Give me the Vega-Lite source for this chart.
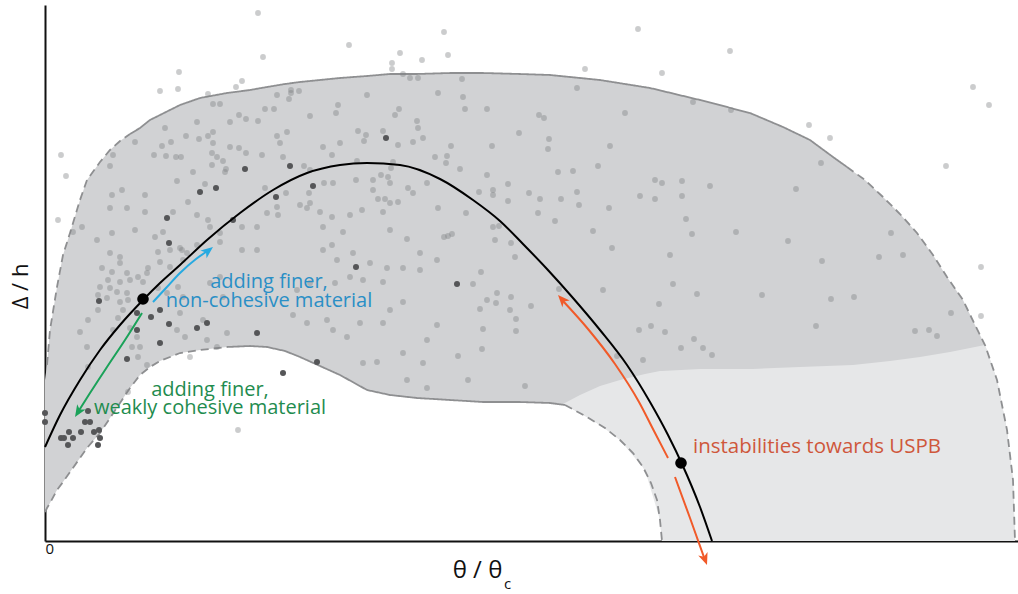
{
  "$schema": "https://vega.github.io/schema/vega-lite/v6.json",
  "width": 973,
  "height": 536,
  "autosize": {"type": "none"},
  "padding": {"left": 45, "top": 5, "right": 0, "bottom": 53},
  "background": "white",
  "config": {"view": {"stroke": null}, "font": "Open Sans"},
  "datasets": {
    "band": [
      {"x":0,"y":161,"y2":29},{"x":2,"y":176,"y2":33},{"x":5,"y":211,"y2":38},{"x":12,"y":254,"y2":51},{"x":18,"y":286,"y2":59},{"x":25,"y":308,"y2":69},{"x":35,"y":341,"y2":83},{"x":42,"y":361,"y2":93},{"x":55,"y":379,"y2":108},{"x":65,"y":391,"y2":123},{"x":75,"y":400,"y2":138},{"x":85,"y":407,"y2":153},{"x":95,"y":413,"y2":166},{"x":105,"y":421,"y2":174},{"x":115,"y":426,"y2":180},{"x":135,"y":436,"y2":188},{"x":155,"y":443,"y2":191},{"x":182,"y":448,"y2":194},{"x":205,"y":451,"y2":195},{"x":222,"y":454,"y2":194},{"x":240,"y":457,"y2":190},{"x":255,"y":459,"y2":184},{"x":275,"y":461,"y2":175},{"x":295,"y":463,"y2":166},{"x":322,"y":465,"y2":151},{"x":345,"y":467,"y2":146},{"x":372,"y":467,"y2":143},{"x":405,"y":468,"y2":141},{"x":438,"y":468,"y2":139},{"x":475,"y":467,"y2":139},{"x":505,"y":466,"y2":138},{"x":520,"y":465,"y2":136},{"x":542,"y":463,"y2":124},{"x":560,"y":460,"y2":113},{"x":575,"y":458,"y2":101},{"x":588,"y":456,"y2":88},{"x":598,"y":454,"y2":74},{"x":606,"y":453,"y2":58},{"x":612,"y":452,"y2":41},{"x":615,"y":451,"y2":21},{"x":617,"y":451,"y2":0},{"x":655,"y":441,"y2":0},{"x":705,"y":428,"y2":0},{"x":738,"y":414,"y2":0},{"x":765,"y":401,"y2":0},{"x":788,"y":384,"y2":0},{"x":802,"y":374,"y2":0},{"x":820,"y":361,"y2":0},{"x":838,"y":344,"y2":0},{"x":855,"y":327,"y2":0},{"x":872,"y":308,"y2":0},{"x":888,"y":286,"y2":0},{"x":902,"y":264,"y2":0},{"x":918,"y":241,"y2":0},{"x":930,"y":216,"y2":0},{"x":940,"y":196,"y2":0},{"x":952,"y":161,"y2":0},{"x":962,"y":111,"y2":0},{"x":968,"y":61,"y2":0},{"x":970,"y":0,"y2":0}
    ],
    "lightZone": [
      {"x":518,"y":137,"y2":137},{"x":535,"y":146,"y2":128},{"x":555,"y":155,"y2":116},{"x":575,"y":161,"y2":101},{"x":600,"y":167,"y2":71},{"x":615,"y":170,"y2":21},{"x":617,"y":170,"y2":0},{"x":655,"y":172,"y2":0},{"x":708,"y":172,"y2":0},{"x":755,"y":174,"y2":0},{"x":808,"y":176,"y2":0},{"x":845,"y":180,"y2":0},{"x":875,"y":184,"y2":0},{"x":905,"y":189,"y2":0},{"x":940,"y":196,"y2":0},{"x":952,"y":161,"y2":0},{"x":962,"y":111,"y2":0},{"x":968,"y":61,"y2":0},{"x":970,"y":0,"y2":0}
    ],
    "bounds": [
      {"x":2,"y":176,"seg":"outerL","style":"dashed"},{"x":5,"y":211,"seg":"outerL","style":"dashed"},{"x":12,"y":254,"seg":"outerL","style":"dashed"},{"x":18,"y":286,"seg":"outerL","style":"dashed"},{"x":25,"y":308,"seg":"outerL","style":"dashed"},{"x":35,"y":341,"seg":"outerL","style":"dashed"},{"x":42,"y":361,"seg":"outerL","style":"dashed"},{"x":55,"y":379,"seg":"outerL","style":"dashed"},{"x":65,"y":391,"seg":"outerL","style":"dashed"},{"x":75,"y":400,"seg":"outerL","style":"dashed"},{"x":85,"y":407,"seg":"outerL","style":"dashed"},
      {"x":85,"y":407,"seg":"outerM","style":"solid"},{"x":95,"y":413,"seg":"outerM","style":"solid"},{"x":105,"y":421,"seg":"outerM","style":"solid"},{"x":115,"y":426,"seg":"outerM","style":"solid"},{"x":135,"y":436,"seg":"outerM","style":"solid"},{"x":155,"y":443,"seg":"outerM","style":"solid"},{"x":182,"y":448,"seg":"outerM","style":"solid"},{"x":205,"y":451,"seg":"outerM","style":"solid"},{"x":222,"y":454,"seg":"outerM","style":"solid"},{"x":240,"y":457,"seg":"outerM","style":"solid"},{"x":255,"y":459,"seg":"outerM","style":"solid"},{"x":275,"y":461,"seg":"outerM","style":"solid"},{"x":295,"y":463,"seg":"outerM","style":"solid"},{"x":322,"y":465,"seg":"outerM","style":"solid"},{"x":345,"y":467,"seg":"outerM","style":"solid"},{"x":372,"y":467,"seg":"outerM","style":"solid"},{"x":405,"y":468,"seg":"outerM","style":"solid"},{"x":438,"y":468,"seg":"outerM","style":"solid"},{"x":475,"y":467,"seg":"outerM","style":"solid"},{"x":505,"y":466,"seg":"outerM","style":"solid"},{"x":555,"y":461,"seg":"outerM","style":"solid"},{"x":605,"y":453,"seg":"outerM","style":"solid"},{"x":655,"y":441,"seg":"outerM","style":"solid"},{"x":705,"y":428,"seg":"outerM","style":"solid"},{"x":738,"y":414,"seg":"outerM","style":"solid"},{"x":765,"y":401,"seg":"outerM","style":"solid"},{"x":788,"y":384,"seg":"outerM","style":"solid"},{"x":802,"y":374,"seg":"outerM","style":"solid"},
      {"x":802,"y":374,"seg":"outerR","style":"dashed"},{"x":820,"y":361,"seg":"outerR","style":"dashed"},{"x":838,"y":344,"seg":"outerR","style":"dashed"},{"x":855,"y":327,"seg":"outerR","style":"dashed"},{"x":872,"y":308,"seg":"outerR","style":"dashed"},{"x":888,"y":286,"seg":"outerR","style":"dashed"},{"x":902,"y":264,"seg":"outerR","style":"dashed"},{"x":918,"y":241,"seg":"outerR","style":"dashed"},{"x":930,"y":216,"seg":"outerR","style":"dashed"},{"x":940,"y":196,"seg":"outerR","style":"dashed"},{"x":952,"y":161,"seg":"outerR","style":"dashed"},{"x":962,"y":111,"seg":"outerR","style":"dashed"},{"x":968,"y":61,"seg":"outerR","style":"dashed"},{"x":970,"y":0,"seg":"outerR","style":"dashed"},
      {"x":0,"y":29,"seg":"innerL","style":"dashed"},{"x":2,"y":33,"seg":"innerL","style":"dashed"},{"x":5,"y":38,"seg":"innerL","style":"dashed"},{"x":12,"y":51,"seg":"innerL","style":"dashed"},{"x":18,"y":59,"seg":"innerL","style":"dashed"},{"x":25,"y":69,"seg":"innerL","style":"dashed"},{"x":35,"y":83,"seg":"innerL","style":"dashed"},{"x":42,"y":93,"seg":"innerL","style":"dashed"},{"x":55,"y":108,"seg":"innerL","style":"dashed"},{"x":65,"y":123,"seg":"innerL","style":"dashed"},{"x":75,"y":138,"seg":"innerL","style":"dashed"},{"x":85,"y":153,"seg":"innerL","style":"dashed"},{"x":95,"y":166,"seg":"innerL","style":"dashed"},{"x":105,"y":174,"seg":"innerL","style":"dashed"},{"x":115,"y":180,"seg":"innerL","style":"dashed"},{"x":135,"y":188,"seg":"innerL","style":"dashed"},{"x":155,"y":191,"seg":"innerL","style":"dashed"},{"x":182,"y":194,"seg":"innerL","style":"dashed"},
      {"x":182,"y":194,"seg":"innerM","style":"solid"},{"x":205,"y":195,"seg":"innerM","style":"solid"},{"x":222,"y":194,"seg":"innerM","style":"solid"},{"x":240,"y":190,"seg":"innerM","style":"solid"},{"x":255,"y":184,"seg":"innerM","style":"solid"},{"x":275,"y":175,"seg":"innerM","style":"solid"},{"x":295,"y":166,"seg":"innerM","style":"solid"},{"x":322,"y":151,"seg":"innerM","style":"solid"},{"x":345,"y":146,"seg":"innerM","style":"solid"},{"x":372,"y":143,"seg":"innerM","style":"solid"},{"x":405,"y":141,"seg":"innerM","style":"solid"},{"x":438,"y":139,"seg":"innerM","style":"solid"},{"x":475,"y":139,"seg":"innerM","style":"solid"},{"x":505,"y":138,"seg":"innerM","style":"solid"},{"x":520,"y":136,"seg":"innerM","style":"solid"},
      {"x":520,"y":136,"seg":"innerR","style":"dashed"},{"x":542,"y":124,"seg":"innerR","style":"dashed"},{"x":560,"y":113,"seg":"innerR","style":"dashed"},{"x":575,"y":101,"seg":"innerR","style":"dashed"},{"x":588,"y":88,"seg":"innerR","style":"dashed"},{"x":598,"y":74,"seg":"innerR","style":"dashed"},{"x":606,"y":58,"seg":"innerR","style":"dashed"},{"x":612,"y":41,"seg":"innerR","style":"dashed"},{"x":615,"y":21,"seg":"innerR","style":"dashed"},{"x":617,"y":0,"seg":"innerR","style":"dashed"}
    ],
    "lightPts": [
      {"x":213,"y":528},{"x":218,"y":484},{"x":304,"y":496},{"x":399,"y":509},{"x":403,"y":486},{"x":355,"y":488},{"x":347,"y":478},{"x":347,"y":472},{"x":377,"y":481},{"x":358,"y":467},{"x":365,"y":463},{"x":373,"y":463},{"x":417,"y":462},{"x":134,"y":469},{"x":115,"y":450},{"x":133,"y":452},{"x":191,"y":454},{"x":197,"y":460},{"x":163,"y":447},{"x":16,"y":386},{"x":21,"y":365},{"x":168,"y":437},{"x":175,"y":437},{"x":246,"y":451},{"x":246,"y":448},{"x":254,"y":450},{"x":232,"y":446},{"x":244,"y":442},{"x":322,"y":446},{"x":393,"y":448},{"x":418,"y":444},{"x":220,"y":432},{"x":229,"y":432},{"x":293,"y":436},{"x":291,"y":428},{"x":354,"y":432},{"x":350,"y":426},{"x":420,"y":432},{"x":442,"y":432},{"x":265,"y":425},{"x":194,"y":426},{"x":201,"y":422},{"x":213,"y":420},{"x":185,"y":419},{"x":152,"y":419},{"x":120,"y":413},{"x":90,"y":399},{"x":126,"y":399},{"x":117,"y":395},{"x":141,"y":405},{"x":154,"y":402},{"x":163,"y":405},{"x":168,"y":409},{"x":168,"y":398},{"x":185,"y":394},{"x":194,"y":393},{"x":201,"y":388},{"x":167,"y":388},{"x":172,"y":384},{"x":178,"y":380},{"x":136,"y":384},{"x":131,"y":384},{"x":121,"y":385},{"x":109,"y":386},{"x":68,"y":386},{"x":65,"y":375},{"x":232,"y":405},{"x":242,"y":409},{"x":235,"y":398},{"x":278,"y":394},{"x":287,"y":386},{"x":295,"y":398},{"x":313,"y":410},{"x":321,"y":406},{"x":319,"y":400},{"x":338,"y":410},{"x":353,"y":396},{"x":368,"y":399},{"x":378,"y":403},{"x":373,"y":413},{"x":372,"y":420},{"x":406,"y":395},{"x":447,"y":395},{"x":390,"y":384},{"x":402,"y":385},{"x":401,"y":378},{"x":415,"y":372},{"x":442,"y":366},{"x":434,"y":349},{"x":448,"y":351},{"x":448,"y":346},{"x":217,"y":386},{"x":238,"y":384},{"x":167,"y":376},{"x":181,"y":372},{"x":180,"y":369},{"x":148,"y":369},{"x":132,"y":360},{"x":160,"y":357},{"x":77,"y":351},{"x":67,"y":346},{"x":100,"y":346},{"x":259,"y":375},{"x":265,"y":371},{"x":279,"y":358},{"x":288,"y":358},{"x":311,"y":361},{"x":328,"y":361},{"x":336,"y":366},{"x":343,"y":364},{"x":345,"y":358},{"x":346,"y":373},{"x":348,"y":379},{"x":312,"y":380},{"x":363,"y":353},{"x":368,"y":348},{"x":382,"y":358},{"x":328,"y":351},{"x":333,"y":342},{"x":340,"y":342},{"x":220,"y":353},{"x":241,"y":348},{"x":264,"y":348},
      {"x":593,"y":512},{"x":685,"y":490},{"x":540,"y":472},{"x":617,"y":468},{"x":532,"y":453},{"x":648,"y":439},{"x":686,"y":431},{"x":928,"y":454},{"x":944,"y":436},{"x":764,"y":416},{"x":785,"y":403},{"x":901,"y":375},{"x":776,"y":378},{"x":494,"y":426},{"x":499,"y":423},{"x":580,"y":428},{"x":474,"y":408},{"x":504,"y":402},{"x":503,"y":392},{"x":565,"y":395},{"x":553,"y":375},{"x":513,"y":369},{"x":528,"y":370},{"x":463,"y":357},{"x":484,"y":348},{"x":495,"y":342},{"x":516,"y":342},{"x":532,"y":349},{"x":534,"y":336},{"x":463,"y":340},{"x":493,"y":328},{"x":510,"y":320},{"x":564,"y":333},{"x":610,"y":361},{"x":617,"y":358},{"x":637,"y":360},{"x":665,"y":355},{"x":595,"y":345},{"x":610,"y":342},{"x":637,"y":345},{"x":751,"y":352},{"x":641,"y":322},{"x":647,"y":307},{"x":691,"y":309},{"x":548,"y":310},{"x":567,"y":293},{"x":466,"y":298},{"x":470,"y":284},{"x":625,"y":286},{"x":743,"y":300},{"x":777,"y":280},{"x":846,"y":308},{"x":834,"y":284},{"x":858,"y":286},{"x":936,"y":274},{"x":514,"y":252},{"x":558,"y":251},{"x":628,"y":257},{"x":652,"y":247},{"x":717,"y":246},{"x":786,"y":242},{"x":809,"y":244},{"x":466,"y":244},
      {"x":486,"y":235},{"x":614,"y":237},{"x":771,"y":215},{"x":906,"y":228},{"x":936,"y":225},{"x":594,"y":211},{"x":606,"y":215},{"x":620,"y":209},{"x":649,"y":202},{"x":636,"y":193},{"x":658,"y":193},{"x":667,"y":186},{"x":598,"y":181},{"x":870,"y":210},{"x":884,"y":211},{"x":892,"y":205},{"x":480,"y":155},{"x":572,"y":185},
      {"x":421,"y":328},{"x":448,"y":314},{"x":454,"y":315},{"x":399,"y":304},{"x":407,"y":307},{"x":403,"y":305},{"x":450,"y":301},{"x":436,"y":269},{"x":428,"y":257},{"x":452,"y":248},{"x":442,"y":241},{"x":451,"y":238},{"x":435,"y":232},{"x":438,"y":212},{"x":437,"y":192},{"x":413,"y":185},{"x":423,"y":161},{"x":465,"y":231},{"x":471,"y":222},{"x":471,"y":210},
      {"x":128,"y":329},{"x":143,"y":339},{"x":163,"y":321},{"x":152,"y":326},{"x":118,"y":309},{"x":110,"y":304},{"x":137,"y":291},{"x":152,"y":296},{"x":175,"y":299},{"x":197,"y":291},{"x":212,"y":291},{"x":197,"y":314},{"x":212,"y":314},{"x":232,"y":334},{"x":233,"y":326},{"x":222,"y":328},{"x":255,"y":336},{"x":262,"y":333},{"x":265,"y":338},{"x":275,"y":329},{"x":278,"y":314},{"x":287,"y":324},{"x":305,"y":326},{"x":317,"y":331},{"x":345,"y":338},{"x":338,"y":329},{"x":353,"y":339},{"x":393,"y":333},{"x":298,"y":309},{"x":287,"y":296},{"x":278,"y":291},{"x":292,"y":281},{"x":308,"y":288},{"x":325,"y":278},{"x":345,"y":311},{"x":362,"y":302},{"x":375,"y":288},{"x":342,"y":273},{"x":358,"y":273},{"x":375,"y":271},{"x":392,"y":281},{"x":318,"y":261},{"x":305,"y":264},{"x":290,"y":258},{"x":265,"y":258},{"x":252,"y":251},{"x":248,"y":226},{"x":262,"y":218},{"x":282,"y":221},{"x":288,"y":211},{"x":302,"y":204},{"x":315,"y":218},{"x":338,"y":218},{"x":345,"y":231},{"x":338,"y":259},{"x":358,"y":239},{"x":392,"y":216},{"x":382,"y":201},{"x":378,"y":178},{"x":358,"y":188},{"x":332,"y":179},{"x":318,"y":178},{"x":362,"y":161},{"x":382,"y":153},
      {"x":13,"y":321},{"x":28,"y":309},{"x":37,"y":314},{"x":52,"y":301},{"x":67,"y":308},{"x":65,"y":333},{"x":82,"y":333},{"x":90,"y":311},{"x":100,"y":329},{"x":65,"y":288},{"x":75,"y":284},{"x":75,"y":278},{"x":57,"y":273},{"x":67,"y":269},{"x":82,"y":268},{"x":85,"y":261},{"x":93,"y":264},{"x":102,"y":268},{"x":103,"y":273},{"x":98,"y":259},{"x":63,"y":261},{"x":75,"y":259},{"x":55,"y":254},{"x":65,"y":253},{"x":53,"y":246},{"x":62,"y":243},{"x":72,"y":249},{"x":82,"y":248},{"x":75,"y":239},{"x":83,"y":241},{"x":43,"y":221},{"x":35,"y":209},{"x":42,"y":194},{"x":43,"y":174},{"x":53,"y":231},{"x":73,"y":223},{"x":78,"y":231},{"x":68,"y":211},{"x":85,"y":213},{"x":92,"y":204},{"x":87,"y":194},{"x":93,"y":184},{"x":102,"y":176},{"x":95,"y":194},{"x":113,"y":289},{"x":125,"y":291},{"x":135,"y":293},{"x":142,"y":288},{"x":165,"y":314},{"x":175,"y":308},{"x":138,"y":281},{"x":115,"y":279},{"x":125,"y":274},{"x":133,"y":254},{"x":138,"y":244},{"x":122,"y":248},{"x":113,"y":253},{"x":165,"y":258},{"x":175,"y":264},{"x":135,"y":228},{"x":158,"y":221},{"x":132,"y":211},{"x":140,"y":204},{"x":162,"y":201},{"x":145,"y":184},{"x":178,"y":244},{"x":172,"y":194},{"x":182,"y":208},
      {"x":83,"y":149},{"x":193,"y":111}
    ],
    "darkPts": [
      {"x":341,"y":403},{"x":200,"y":372},{"x":245,"y":375},{"x":268,"y":355},{"x":171,"y":353},{"x":155,"y":349},{"x":231,"y":344},{"x":122,"y":323},{"x":124,"y":298},{"x":188,"y":321},{"x":311,"y":274},{"x":412,"y":257},{"x":212,"y":208},{"x":162,"y":218},{"x":124,"y":217},{"x":152,"y":213},{"x":115,"y":198},{"x":115,"y":231},{"x":106,"y":224},{"x":272,"y":179},{"x":238,"y":168},{"x":54,"y":240},{"x":82,"y":182},{"x":92,"y":228},{"x":92,"y":211},
      {"x":0,"y":128},{"x":0,"y":119},{"x":16,"y":103},{"x":19,"y":103},{"x":24,"y":109},{"x":28,"y":103},{"x":23,"y":96},{"x":36,"y":109},{"x":40,"y":119},{"x":45,"y":119},{"x":43,"y":130},{"x":49,"y":109},{"x":54,"y":111},{"x":55,"y":103},{"x":53,"y":96}
    ],
    "curve": [
      {"x":0,"y":94},{"x":15,"y":126},{"x":35,"y":161},{"x":55,"y":191},{"x":75,"y":216},{"x":98,"y":241},{"x":115,"y":258},{"x":135,"y":276},{"x":162,"y":301},{"x":195,"y":328},{"x":228,"y":351},{"x":262,"y":368},{"x":295,"y":376},{"x":322,"y":378},{"x":355,"y":376},{"x":395,"y":362},{"x":428,"y":341},{"x":455,"y":320},{"x":478,"y":297},{"x":502,"y":272},{"x":528,"y":243},{"x":555,"y":211},{"x":582,"y":176},{"x":605,"y":139},{"x":623,"y":106},{"x":637,"y":77},{"x":655,"y":34},{"x":667,"y":0}
    ],
    "bigDots": [{"x":98,"y":242},{"x":636,"y":78}],
    "arrows": [
      {"x":108,"y":239,"arrow":"blue","ord":1},{"x":121,"y":253,"arrow":"blue","ord":2},{"x":135,"y":268,"arrow":"blue","ord":3},{"x":151,"y":282,"arrow":"blue","ord":4},{"x":164,"y":291,"arrow":"blue","ord":5},
      {"x":97,"y":228,"arrow":"green","ord":1},{"x":80,"y":201,"arrow":"green","ord":2},{"x":62,"y":174,"arrow":"green","ord":3},{"x":45,"y":148,"arrow":"green","ord":4},{"x":33,"y":129,"arrow":"green","ord":5},
      {"x":623,"y":83,"arrow":"orangeUp","ord":1},{"x":609,"y":110,"arrow":"orangeUp","ord":2},{"x":594,"y":139,"arrow":"orangeUp","ord":3},{"x":570,"y":177,"arrow":"orangeUp","ord":4},{"x":543,"y":212,"arrow":"orangeUp","ord":5},{"x":518,"y":240,"arrow":"orangeUp","ord":6},
      {"x":630,"y":64,"arrow":"orangeDown","ord":1},{"x":645,"y":23,"arrow":"orangeDown","ord":2},{"x":660,"y":-19,"arrow":"orangeDown","ord":3}
    ],
    "heads": [
      {"x":168,"y":294,"arrow":"blue","angle":52},
      {"x":30,"y":124,"arrow":"green","angle":212},
      {"x":513,"y":246,"arrow":"orangeUp","angle":318},
      {"x":662,"y":-24,"arrow":"orangeDown","angle":160}
    ],
    "blueText": [{"x":224,"y":259,"text":"adding finer,\nnon-cohesive material"}],
    "greenText": [{"x":165,"y":151,"text":"adding finer,\nweakly cohesive material"}],
    "orangeText": [{"x":648,"y":94,"text":"instabilities towards USPB"}],
    "subText": [{"x":459,"y":-48,"text":"c"}]
  },
  "encoding": {
    "x": {"field": "x", "type": "quantitative", "scale": {"domain": [0, 973], "nice": false, "zero": false},
      "axis": {"domainColor": "#111111", "domainWidth": 2, "ticks": false, "grid": false, "values": [0], "labelFontSize": 15, "labelColor": "#111111", "labelPadding": 0, "labelFont": "Open Sans",
        "title": "θ / θ", "titleFont": "Open Sans", "titleFontSize": 24, "titleFontWeight": "normal", "titleColor": "#111111", "titleX": 432, "titleY": 36, "titleBaseline": "alphabetic", "titleAlign": "center"}},
    "y": {"field": "y", "type": "quantitative", "scale": {"domain": [0, 536], "nice": false, "zero": false},
      "axis": {"domainColor": "#111111", "domainWidth": 2, "ticks": false, "grid": false, "labels": false,
        "title": "Δ / h", "titleFont": "Open Sans", "titleFontSize": 22, "titleFontWeight": "normal", "titleColor": "#111111", "titleX": -18, "titleY": 281, "titleAngle": 270, "titleBaseline": "alphabetic", "titleAlign": "center"}}
  },
  "layer": [
    {"data": {"name": "band"}, "mark": {"type": "area", "color": "#d1d2d4"}, "encoding": {"y2": {"field": "y2"}}},
    {"data": {"name": "lightZone"}, "mark": {"type": "area", "color": "#e6e7e8"}, "encoding": {"y2": {"field": "y2"}}},
    {"data": {"name": "bounds"}, "mark": {"type": "line", "color": "#8e8f91", "strokeWidth": 1.8},
      "encoding": {"detail": {"field": "seg"}, "strokeDash": {"field": "style", "type": "nominal", "scale": {"domain": ["solid", "dashed"], "range": [[1, 0], [8, 5]]}, "legend": null}}},
    {"data": {"name": "lightPts"}, "mark": {"type": "circle", "color": "#7d7f82", "opacity": 0.4, "size": 34}},
    {"data": {"name": "darkPts"}, "mark": {"type": "circle", "color": "#555658", "opacity": 1, "size": 36}},
    {"data": {"name": "curve"}, "mark": {"type": "line", "color": "#000000", "strokeWidth": 2, "interpolate": "monotone"}, "encoding": {}},
    {"data": {"name": "arrows"}, "mark": {"type": "line", "strokeWidth": 2, "interpolate": "monotone"},
      "encoding": {"detail": {"field": "arrow"}, "order": {"field": "ord", "type": "quantitative"},
        "color": {"field": "arrow", "type": "nominal", "scale": {"domain": ["blue", "green", "orangeUp", "orangeDown"], "range": ["#27aae1", "#1aa259", "#f15a29", "#f15a29"]}, "legend": null}}},
    {"data": {"name": "heads"}, "mark": {"type": "point", "filled": true, "opacity": 1, "shape": "M0,0L0.7,1.7L0,1.25L-0.7,1.7Z", "size": 200},
      "encoding": {"angle": {"field": "angle", "type": "quantitative", "scale": null},
        "color": {"field": "arrow", "type": "nominal", "scale": {"domain": ["blue", "green", "orangeUp", "orangeDown"], "range": ["#27aae1", "#1aa259", "#f15a29", "#f15a29"]}, "legend": null}}},
    {"data": {"name": "bigDots"}, "mark": {"type": "circle", "color": "#000000", "opacity": 1, "size": 135}},
    {"data": {"name": "blueText"}, "mark": {"type": "text", "color": "#2a8fc6", "fontSize": 20, "font": "Open Sans", "align": "center", "baseline": "middle", "lineBreak": "\n", "lineHeight": 18.5}, "encoding": {"text": {"field": "text"}}},
    {"data": {"name": "greenText"}, "mark": {"type": "text", "color": "#1f8c4f", "fontSize": 20, "font": "Open Sans", "align": "center", "baseline": "middle", "lineBreak": "\n", "lineHeight": 18}, "encoding": {"text": {"field": "text"}}},
    {"data": {"name": "orangeText"}, "mark": {"type": "text", "color": "#cf573b", "fontSize": 20.5, "font": "Open Sans", "align": "left", "baseline": "middle"}, "encoding": {"text": {"field": "text"}}},
    {"data": {"name": "subText"}, "mark": {"type": "text", "color": "#111111", "fontSize": 15, "font": "Open Sans", "align": "left", "baseline": "alphabetic"}, "encoding": {"text": {"field": "text"}}}
  ]
}
